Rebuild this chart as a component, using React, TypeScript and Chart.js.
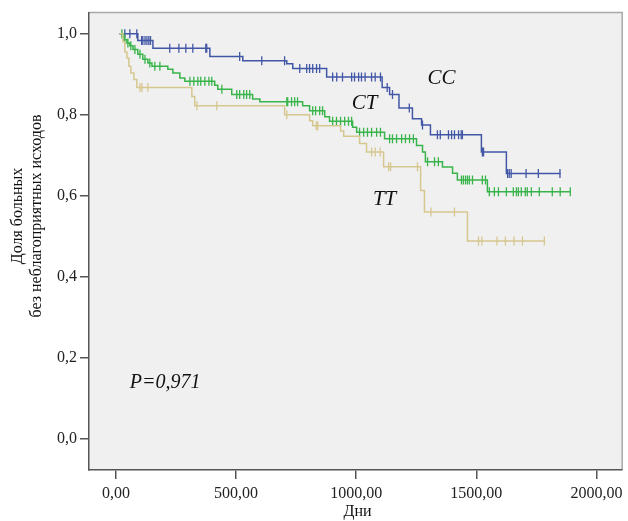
import React, { useEffect, useRef } from 'react';
import { Chart, registerables } from 'chart.js';
Chart.register(...registerables);

// Kaplan–Meier curves: event times (days) and survival after each event
const ccTimes = [15, 91, 154, 391, 528, 711, 736, 877, 1108, 1139, 1178, 1234, 1272, 1309, 1521, 1625, 1850];
const ccSurv = [1.0, 0.983, 0.964, 0.944, 0.933, 0.926, 0.914, 0.893, 0.867, 0.85, 0.817, 0.79, 0.775, 0.751, 0.708, 0.655, 0.655];
const ccCensored = [37, 58, 87, 107, 112, 121, 129, 137, 144, 224, 262, 291, 320, 374, 378, 515, 607, 702, 765, 794, 806, 819, 835, 848, 902, 919, 943, 981, 993, 1010, 1022, 1037, 1064, 1079, 1101, 1129, 1151, 1221, 1276, 1338, 1350, 1384, 1397, 1409, 1426, 1437, 1442, 1525, 1530, 1630, 1637, 1645, 1707, 1758, 1848];

const ctTimes = [15, 33, 46, 58, 71, 91, 112, 133, 150, 216, 237, 266, 287, 411, 424, 482, 569, 599, 777, 806, 869, 889, 985, 1002, 1118, 1251, 1276, 1288, 1359, 1401, 1421, 1546, 1891];
const ctSurv = [1.0, 0.985, 0.977, 0.97, 0.961, 0.949, 0.937, 0.928, 0.92, 0.912, 0.903, 0.891, 0.883, 0.873, 0.863, 0.85, 0.839, 0.832, 0.822, 0.81, 0.795, 0.784, 0.769, 0.757, 0.741, 0.724, 0.708, 0.684, 0.671, 0.656, 0.639, 0.61, 0.61];
const ctCensored = [25, 37, 50, 62, 79, 100, 121, 141, 162, 183, 308, 324, 341, 353, 370, 387, 399, 441, 503, 515, 532, 544, 557, 711, 715, 731, 744, 756, 819, 831, 848, 860, 902, 918, 935, 952, 968, 981, 1014, 1031, 1047, 1064, 1085, 1101, 1139, 1151, 1168, 1189, 1205, 1222, 1238, 1297, 1326, 1342, 1438, 1446, 1455, 1463, 1471, 1484, 1525, 1538, 1554, 1575, 1592, 1625, 1654, 1667, 1675, 1687, 1704, 1712, 1729, 1762, 1816, 1849, 1891];

const ttTimes = [15, 29, 37, 46, 54, 62, 75, 87, 316, 328, 702, 806, 819, 935, 948, 1014, 1043, 1114, 1268, 1284, 1463, 1783];
const ttSurv = [1.0, 0.98, 0.955, 0.94, 0.92, 0.903, 0.887, 0.867, 0.845, 0.822, 0.8, 0.785, 0.773, 0.76, 0.747, 0.729, 0.708, 0.672, 0.613, 0.56, 0.489, 0.489];
const ttCensored = [100, 108, 133, 337, 420, 711, 834, 840, 1064, 1079, 1100, 1135, 1143, 1255, 1311, 1409, 1509, 1523, 1586, 1621, 1657, 1692, 1783];

const xTickValues = [0, 500, 1000, 1500, 2000];
const yTickValues = [0, 0.2, 0.4, 0.6, 0.8, 1.0];

const groupLabels = [
  { text: 'CC', x: 1355, y: 0.89 },
  { text: 'CT', x: 1035, y: 0.827 },
  { text: 'TT', x: 1118, y: 0.59 },
];
const pLabel = { text: 'P=0,971', x: 58, y: 0.139 };

const BLUE = '#4157a6';
const GREEN = '#38b44a';
const TAN = '#d6c78f';
const SERIF = '"Liberation Serif", "Times New Roman", serif';

function survivalAt(times: number[], surv: number[], t: number): number {
  let s = surv[0];
  for (let i = 0; i < times.length; i++) {
    if (times[i] <= t) s = surv[i];
  }
  return s;
}

function stepData(times: number[], surv: number[]) {
  return times.map((t, i) => ({ x: t, y: surv[i] }));
}

function censorData(times: number[], surv: number[], cens: number[]) {
  return cens.map((t) => ({ x: t, y: survivalAt(times, surv, t) }));
}

const decorPlugin = {
  id: 'decor',
  beforeDraw(chart: any) {
    const { ctx, chartArea } = chart;
    ctx.save();
    ctx.fillStyle = '#ffffff';
    ctx.fillRect(0, 0, chart.width, chart.height);
    ctx.fillStyle = '#f0f0f0';
    ctx.fillRect(chartArea.left, chartArea.top, chartArea.right - chartArea.left, chartArea.bottom - chartArea.top);
    ctx.strokeStyle = '#a8a8a8';
    ctx.lineWidth = 1.5;
    ctx.beginPath();
    ctx.moveTo(chartArea.left, chartArea.top);
    ctx.lineTo(chartArea.right, chartArea.top);
    ctx.lineTo(chartArea.right, chartArea.bottom);
    ctx.stroke();
    ctx.restore();
  },
  afterDraw(chart: any) {
    const { ctx, chartArea, scales } = chart;
    const xs = scales.x;
    const ys = scales.y;
    ctx.save();
    ctx.fillStyle = '#111';
    ctx.textBaseline = 'middle';
    // group labels
    ctx.font = `italic 21px ${SERIF}`;
    ctx.textAlign = 'center';
    groupLabels.forEach((g) => {
      ctx.fillText(g.text, xs.getPixelForValue(g.x), ys.getPixelForValue(g.y));
    });
    ctx.font = `italic 20px ${SERIF}`;
    ctx.textAlign = 'left';
    ctx.fillText(pLabel.text, xs.getPixelForValue(pLabel.x), ys.getPixelForValue(pLabel.y));
    // axis titles
    ctx.font = `16px ${SERIF}`;
    ctx.textAlign = 'center';
    ctx.fillText('Дни', (chartArea.left + chartArea.right) / 2 + 2, 512);
    const cy = 216;
    ctx.translate(0, cy);
    ctx.rotate(-Math.PI / 2);
    ctx.font = `16px ${SERIF}`;
    ctx.fillText('Доля больных', 0, 18);
    ctx.fillText('без неблагоприятных исходов', 0, 37);
    ctx.restore();
  },
};

export default function App() {
  const ref = useRef<HTMLCanvasElement | null>(null);
  useEffect(() => {
    if (!ref.current) return;
    const chart = new Chart(ref.current, {
      type: 'line',
      data: {
        datasets: [
          { label: 'TT', data: stepData(ttTimes, ttSurv), borderColor: TAN, borderWidth: 1.5, stepped: 'before', pointRadius: 0, fill: false } as any,
          { label: 'CT', data: stepData(ctTimes, ctSurv), borderColor: GREEN, borderWidth: 1.5, stepped: 'before', pointRadius: 0, fill: false } as any,
          { label: 'CC', data: stepData(ccTimes, ccSurv), borderColor: BLUE, borderWidth: 1.5, stepped: 'before', pointRadius: 0, fill: false } as any,
          { type: 'scatter', label: 'TT cens', data: censorData(ttTimes, ttSurv, ttCensored), showLine: false, pointStyle: 'line', rotation: 90, pointRadius: 4.5, borderColor: TAN, backgroundColor: TAN, borderWidth: 1.3 } as any,
          { type: 'scatter', label: 'CT cens', data: censorData(ctTimes, ctSurv, ctCensored), showLine: false, pointStyle: 'line', rotation: 90, pointRadius: 4.5, borderColor: GREEN, backgroundColor: GREEN, borderWidth: 1.3 } as any,
          { type: 'scatter', label: 'CC cens', data: censorData(ccTimes, ccSurv, ccCensored), showLine: false, pointStyle: 'line', rotation: 90, pointRadius: 4.5, borderColor: BLUE, backgroundColor: BLUE, borderWidth: 1.3 } as any,
        ],
      },
      options: {
        animation: false,
        responsive: false,
        devicePixelRatio: 1,
        layout: { padding: { left: 0, top: 11, right: 5, bottom: 0 } },
        plugins: { legend: { display: false }, tooltip: { enabled: false } },
        scales: {
          x: {
            type: 'linear',
            min: -112,
            max: 2107,
            afterFit: (s: any) => { s.height = 51; },
            afterBuildTicks: (s: any) => { s.ticks = xTickValues.map((v) => ({ value: v })); },
            ticks: {
              includeBounds: false,
              padding: 5,
              color: '#222',
              font: { family: SERIF, size: 16 },
              callback: (v: any) => Number(v).toFixed(2).replace('.', ','),
              maxRotation: 0,
            },
            grid: { drawOnChartArea: false, drawTicks: true, tickLength: 9, color: '#555', lineWidth: 1.5 },
            border: { display: true, color: '#555', width: 1.5 },
          },
          y: {
            type: 'linear',
            min: -0.076,
            max: 1.052,
            afterFit: (s: any) => { s.width = 89; },
            afterBuildTicks: (s: any) => { s.ticks = yTickValues.map((v) => ({ value: v })); },
            ticks: {
              includeBounds: false,
              padding: 3,
              color: '#222',
              font: { family: SERIF, size: 16 },
              callback: (v: any) => Number(v).toFixed(1).replace('.', ','),
            },
            grid: { drawOnChartArea: false, drawTicks: true, tickLength: 9, color: '#555', lineWidth: 1.5 },
            border: { display: true, color: '#555', width: 1.5 },
          },
        },
      } as any,
      plugins: [decorPlugin],
    });
    return () => chart.destroy();
  }, []);
  return (
    <div style={{ position: 'fixed', left: 0, top: 0, width: 628, height: 521 }}>
      <canvas ref={ref} width={628} height={521} style={{ width: 628, height: 521, display: 'block' }} />
    </div>
  );
}
